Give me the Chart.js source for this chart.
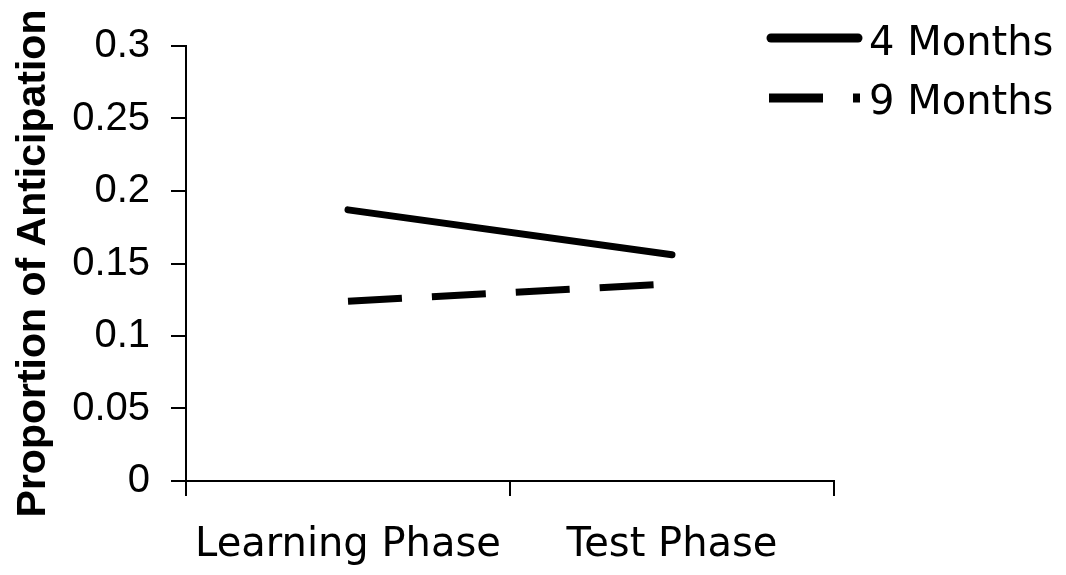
<!DOCTYPE html>
<html>
<head>
<meta charset="utf-8">
<script src="https://cdn.jsdelivr.net/npm/chart.js@4"></script>
<style>
    html, body { margin: 0; padding: 0; background: #ffffff; }
</style>
</head>
<body>
<canvas id="anticipation-chart" width="1066" height="575"></canvas>
<script>
    // 데이터
    const phases = ['Learning Phase', 'Test Phase'];
    const fourMonths = [0.187, 0.156];
    const nineMonths = [0.124, 0.136];
    const yTicks = [0, 0.05, 0.1, 0.15, 0.2, 0.25, 0.3];

    const regularFont = '"DejaVu Sans", sans-serif';

    // 오른쪽 위 범례 (차트 영역 밖으로 겹쳐 그림)
    const sideLegend = {
        id: 'sideLegend',
        afterDraw(chart) {
            const ctx = chart.ctx;
            const rows = [
                { lineY: 38, textY: 55, from: 771, to: 858 },
                { lineY: 98, textY: 114, from: 769, to: 860 }
            ];
            chart.data.datasets.forEach((ds, i) => {
                const row = rows[i];
                ctx.save();
                ctx.strokeStyle = ds.borderColor;
                ctx.lineWidth = 9;
                ctx.lineCap = ds.borderCapStyle;
                ctx.setLineDash(ds.borderDash || []);
                ctx.beginPath();
                ctx.moveTo(row.from, row.lineY);
                ctx.lineTo(row.to, row.lineY);
                ctx.stroke();
                ctx.restore();

                ctx.save();
                ctx.fillStyle = '#000000';
                ctx.font = '40px ' + regularFont;
                ctx.textBaseline = 'alphabetic';
                ctx.fillText(ds.label, 869, row.textY);
                ctx.restore();
            });
        }
    };

    new Chart(document.getElementById('anticipation-chart'), {
        type: 'line',
        data: {
            labels: phases,
            datasets: [{
                label: '4 Months',
                data: fourMonths,
                borderColor: '#000000',
                borderWidth: 7,
                borderCapStyle: 'round',
                pointRadius: 0,
                tension: 0
            }, {
                label: '9 Months',
                data: nineMonths,
                borderColor: '#000000',
                borderWidth: 7,
                borderCapStyle: 'butt',
                borderDash: [54, 30],
                pointRadius: 0,
                tension: 0
            }]
        },
        options: {
            responsive: false,
            animation: false,
            devicePixelRatio: 1,
            layout: {
                padding: { top: 46, right: 232, bottom: 0, left: 0 }
            },
            plugins: {
                legend: { display: false },
                tooltip: { enabled: false }
            },
            scales: {
                x: {
                    type: 'category',
                    offset: true,
                    afterFit: scale => { scale.height = 94; },
                    grid: {
                        offset: true,
                        drawOnChartArea: false,
                        drawTicks: true,
                        tickLength: 15,
                        color: '#000000',
                        lineWidth: 2
                    },
                    border: { display: true, color: '#000000', width: 2 },
                    ticks: {
                        color: '#000000',
                        padding: 30,
                        maxRotation: 0,
                        font: { family: regularFont, size: 40, lineHeight: 1 }
                    }
                },
                y: {
                    min: 0,
                    max: 0.3,
                    afterFit: scale => { scale.width = 186; },
                    afterBuildTicks: scale => {
                        scale.ticks = yTicks.map(v => ({ value: v }));
                    },
                    grid: {
                        drawOnChartArea: false,
                        drawTicks: true,
                        tickLength: 15,
                        color: '#000000',
                        lineWidth: 2
                    },
                    border: { display: true, color: '#000000', width: 2 },
                    ticks: {
                        color: '#000000',
                        padding: 21,
                        font: { family: '"Liberation Sans", Arial, sans-serif', size: 40 },
                        callback: v => String(+v.toFixed(2))
                    },
                    title: {
                        display: true,
                        text: 'Proportion of Anticipation',
                        color: '#000000',
                        padding: { top: 13, bottom: 0 },
                        font: { family: '"Liberation Sans", Arial, sans-serif', size: 41, weight: 'bold', lineHeight: 1 }
                    }
                }
            }
        },
        plugins: [sideLegend]
    });
</script>
</body>
</html>
